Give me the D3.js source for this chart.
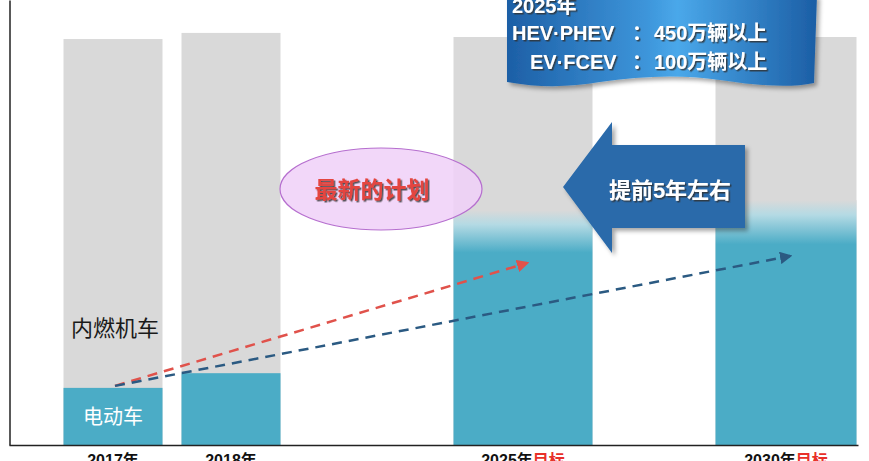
<!DOCTYPE html>
<html lang="zh">
<head>
    <meta charset="UTF-8">
    <title>电动车目标</title>
    <script src="https://d3js.org/d3.v7.min.js"></script>
    <style>
        body { margin: 0; background: #fff; }
        svg { display: block; }
        text { font-family: "Liberation Sans", "Noto Sans CJK SC", sans-serif; }
    </style>
</head>
<body>
    <svg width="869" height="461"></svg>
    <script>
        // data (share of the bar, %)
        const categories = ["2017年", "2018年", "2025年", "2030年"];
        const labelSuffix = ["", "", "目标", "目标"];
        const totalShare = [99.5, 101, 100, 100];
        const evShare = [14, 17.6, 57.5, 60];
        const fadeTop = [false, false, true, true];
        // dashed trend arrows: from 2017 EV level to a target level
        const trendTo = ["2025年", "2030年"];
        const trendValue = [44.6, 46.3];
        const trendColor = ["#e0524b", "#2b5a82"];

        const width = 869, height = 461;
        const baseY = 445;

        const svg = d3.select("svg");
        const defs = svg.append("defs");

        // scales
        const x = d3.scaleOrdinal().domain(categories).range([113, 231, 523, 786]);
        const bw = d3.scaleOrdinal().domain(categories).range([99, 99, 139, 141]);
        const y = d3.scaleLinear().domain([0, 100]).range([baseY, 37]);

        // gradient for the target bars (gray fading into teal)
        const grad = defs.append("linearGradient")
            .attr("id", "fade").attr("x1", 0).attr("y1", 0).attr("x2", 0).attr("y2", 1);
        grad.append("stop").attr("offset", 0).attr("stop-color", "#d9d9d9");
        grad.append("stop").attr("offset", 0.06).attr("stop-color", "#b4dae4");
        grad.append("stop").attr("offset", 0.18).attr("stop-color", "#4bacc6");
        grad.append("stop").attr("offset", 1).attr("stop-color", "#4bacc6");

        // banner gradient
        const bg = defs.append("linearGradient")
            .attr("id", "banner").attr("x1", 0).attr("y1", 0).attr("x2", 1).attr("y2", 0);
        bg.append("stop").attr("offset", 0).attr("stop-color", "#1d5fa6");
        bg.append("stop").attr("offset", 0.45).attr("stop-color", "#3d95da");
        bg.append("stop").attr("offset", 0.55).attr("stop-color", "#4aa8ea");
        bg.append("stop").attr("offset", 1).attr("stop-color", "#1c5ea5");

        const shadow = defs.append("filter").attr("id", "shadow")
            .attr("x", "-10%").attr("y", "-10%").attr("width", "130%").attr("height", "140%");
        shadow.append("feDropShadow").attr("dx", 3).attr("dy", 3).attr("stdDeviation", 2)
            .attr("flood-color", "#000").attr("flood-opacity", 0.35);

        const tshadow = defs.append("filter").attr("id", "tshadow");
        tshadow.append("feDropShadow").attr("dx", 1.5).attr("dy", 1.5).attr("stdDeviation", 0.6)
            .attr("flood-color", "#333").attr("flood-opacity", 0.8);

        // arrow heads
        trendColor.forEach((c, i) => {
            defs.append("marker")
                .attr("id", "head" + i)
                .attr("viewBox", "0 0 10 10")
                .attr("refX", 8).attr("refY", 5)
                .attr("markerWidth", 5).attr("markerHeight", 5)
                .attr("orient", "auto")
                .append("path").attr("d", "M0,0 L10,5 L0,10 Z").attr("fill", c);
        });

        // bars: gray total
        const bars = svg.append("g").selectAll("g")
            .data(categories).join("g");

        bars.append("rect")
            .attr("x", d => x(d) - bw(d) / 2)
            .attr("width", d => bw(d))
            .attr("y", (d, i) => y(totalShare[i]))
            .attr("height", (d, i) => baseY - y(totalShare[i]))
            .attr("fill", "#d9d9d9");

        bars.append("rect")
            .attr("x", d => x(d) - bw(d) / 2)
            .attr("width", d => bw(d))
            .attr("y", (d, i) => y(evShare[i]))
            .attr("height", (d, i) => baseY - y(evShare[i]))
            .attr("fill", (d, i) => fadeTop[i] ? "url(#fade)" : "#4bacc6");

        // axes (lines only)
        svg.append("g")
            .attr("transform", `translate(9.5,0)`)
            .call(d3.axisLeft(d3.scaleLinear().range([baseY, 0])).tickValues([]).tickSizeOuter(0))
            .select(".domain").attr("stroke", "#222").attr("stroke-width", 1.5);

        svg.append("g")
            .attr("transform", `translate(0,${baseY})`)
            .call(d3.axisBottom(d3.scaleLinear().range([9, 858])).tickValues([]).tickSizeOuter(0))
            .select(".domain").attr("stroke", "#222").attr("stroke-width", 1.5);

        // category labels (cut by the bottom edge, as in the source)
        const lab = svg.append("g").selectAll("text")
            .data(categories).join("text")
            .attr("x", d => x(d))
            .attr("y", 466)
            .attr("text-anchor", "middle")
            .attr("font-size", 16)
            .attr("font-weight", "bold")
            .attr("fill", "#111");
        lab.append("tspan").text(d => d);
        lab.append("tspan").attr("fill", "#e8302a").text((d, i) => labelSuffix[i]);

        // segment labels
        svg.append("text")
            .attr("x", x("2017年") + 2).attr("y", 336)
            .attr("text-anchor", "middle")
            .attr("font-size", 22)
            .attr("fill", "#1a1a1a")
            .text("内燃机车");

        svg.append("text")
            .attr("x", x("2017年")).attr("y", 424)
            .attr("text-anchor", "middle")
            .attr("font-size", 20)
            .attr("fill", "#fff")
            .text("电动车");

        // dashed trend arrows
        svg.append("g").selectAll("line")
            .data(trendTo).join("line")
            .attr("x1", x("2017年") + 2)
            .attr("y1", y(evShare[0]) - 2)
            .attr("x2", d => x(d) + 4)
            .attr("y2", (d, i) => y(trendValue[i]))
            .attr("stroke", (d, i) => trendColor[i])
            .attr("stroke-width", 2.5)
            .attr("stroke-dasharray", "10,7")
            .attr("marker-end", (d, i) => `url(#head${i})`);

        // ellipse "最新的计划"
        svg.append("ellipse")
            .attr("cx", 381).attr("cy", 189).attr("rx", 101).attr("ry", 41)
            .attr("fill", "#f0d0f8").attr("fill-opacity", 0.85)
            .attr("stroke", "#b66fcf").attr("stroke-width", 1.2);
        svg.append("text")
            .attr("x", 372).attr("y", 198)
            .attr("text-anchor", "middle")
            .attr("font-size", 23)
            .attr("font-weight", "bold")
            .attr("fill", "#e4453f")
            .attr("filter", "url(#tshadow)")
            .text("最新的计划");

        // left pointing block arrow
        const arrowPts = [[563, 187], [612, 122], [612, 145], [745, 145], [745, 228], [612, 228], [612, 253]];
        svg.append("path")
            .attr("d", d3.line()(arrowPts) + "Z")
            .attr("fill", "#2a6aaa")
            .attr("filter", "url(#shadow)");
        svg.append("text")
            .attr("x", 670).attr("y", 198)
            .attr("text-anchor", "middle")
            .attr("font-size", 22)
            .attr("font-weight", "bold")
            .attr("fill", "#fff")
            .attr("filter", "url(#tshadow)")
            .text("提前5年左右");

        // wavy banner at the top
        const bannerPath = "M507,-5 L817,-5 L814,83 C790,88 760,86 720,80 C680,74 640,76 600,82 C570,87 540,88 507,82 Z";
        svg.append("path")
            .attr("d", bannerPath)
            .attr("fill", "url(#banner)")
            .attr("filter", "url(#shadow)");

        const bannerText = svg.append("g")
            .attr("fill", "#fff")
            .attr("font-weight", "bold")
            .attr("font-size", 20)
            .attr("filter", "url(#tshadow)");
        bannerText.append("text").attr("x", 512).attr("y", 13).text("2025年");
        bannerText.append("text").attr("x", 512).attr("y", 40).text("HEV·PHEV");
        bannerText.append("text").attr("x", 632).attr("y", 40).text("：");
        bannerText.append("text").attr("x", 654).attr("y", 40).text("450万辆以上");
        bannerText.append("text").attr("x", 530).attr("y", 69).text("EV·FCEV");
        bannerText.append("text").attr("x", 632).attr("y", 69).text("：");
        bannerText.append("text").attr("x", 654).attr("y", 69).text("100万辆以上");
    </script>
</body>
</html>
